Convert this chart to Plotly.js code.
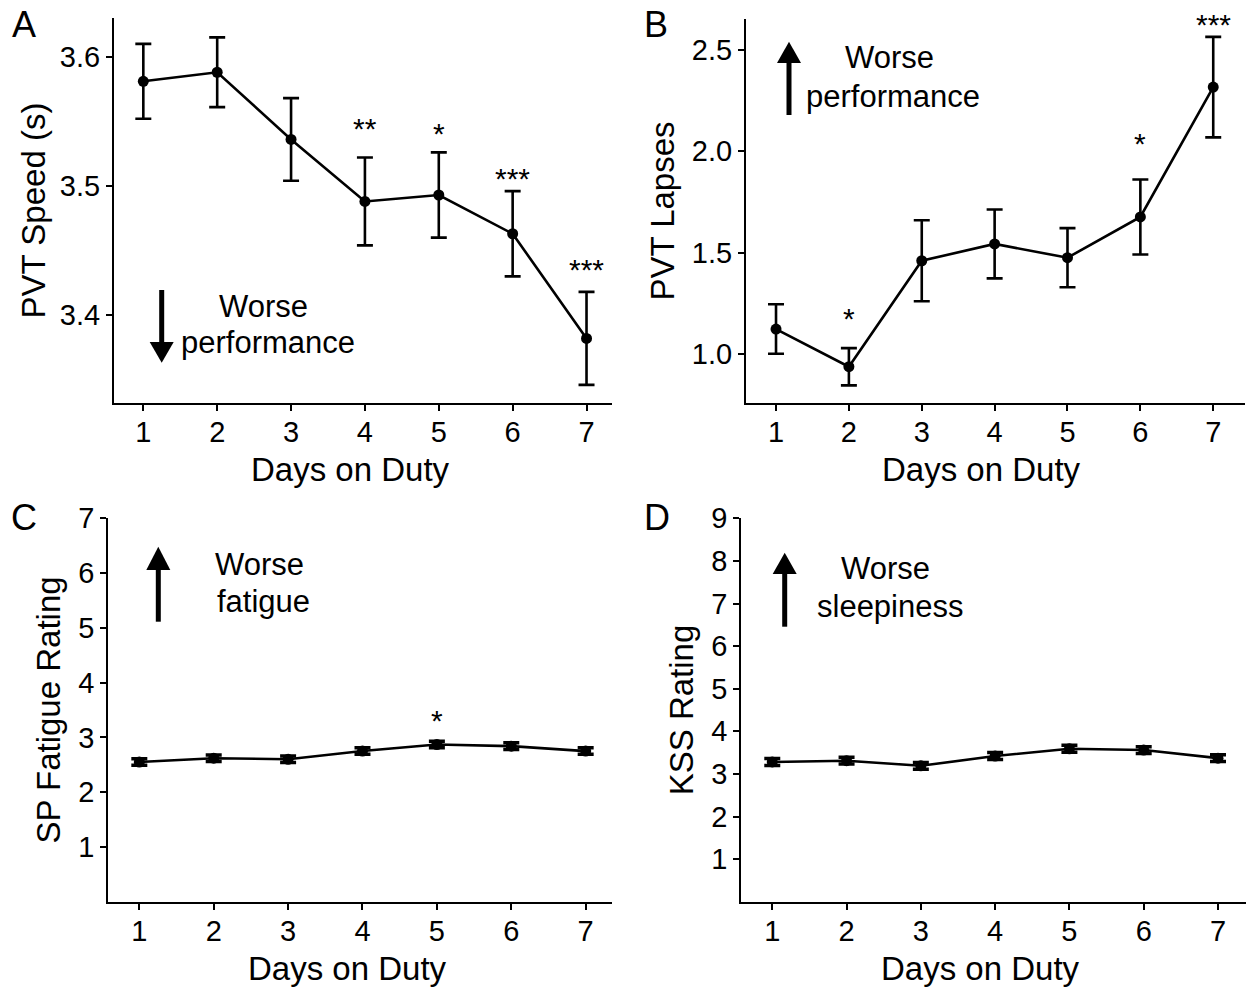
<!DOCTYPE html>
<html>
<head>
<meta charset="utf-8">
<script src="https://cdn.plot.ly/plotly-3.0.1.min.js"></script>
<style>
  html, body { margin: 0; padding: 0; background: #fff; }
  #chart { width: 1248px; height: 989px; }
</style>
</head>
<body>
<div id="chart"></div>
<script>
// Daily means and standard errors across seven consecutive days on duty
const days = [1, 2, 3, 4, 5, 6, 7];

const pvtSpeed    = [3.581, 3.588, 3.536, 3.488, 3.493, 3.463, 3.382];
const pvtSpeedErr = [0.029, 0.027, 0.032, 0.034, 0.033, 0.033, 0.036];

const pvtLapses    = [1.123, 0.937, 1.460, 1.543, 1.475, 1.676, 2.317];
const pvtLapsesErr = [0.122, 0.092, 0.200, 0.170, 0.146, 0.185, 0.248];

const fatigue    = [2.55, 2.62, 2.60, 2.75, 2.87, 2.84, 2.75];
const fatigueErr = [0.06, 0.06, 0.06, 0.06, 0.06, 0.06, 0.06];

const kss    = [3.28, 3.31, 3.19, 3.42, 3.59, 3.56, 3.37];
const kssErr = [0.08, 0.08, 0.08, 0.08, 0.08, 0.08, 0.08];

const dayTicks = ['1', '2', '3', '4', '5', '6', '7'];

// Page geometry helpers (pixels -> paper fractions)
const W = 1248, H = 989;
const px = x => x / W;
const py = y => 1 - y / H;

const FONT = 'Liberation Sans, Arial, Helvetica, sans-serif';
const BLACK = '#000000';
const TICK_SIZE = 29;

function series(y, err, xa, ya, big) {
  return {
    x: days, y: y, xaxis: xa, yaxis: ya,
    type: 'scatter', mode: 'lines+markers',
    line: { color: BLACK, width: 2.6 },
    marker: { color: BLACK, size: 11 },
    error_y: { type: 'data', array: err, visible: true, color: BLACK,
               thickness: big ? 3.5 : 2.6, width: 8 },
    cliponaxis: false, showlegend: false, hoverinfo: 'x+y'
  };
}

const data = [
  series(pvtSpeed, pvtSpeedErr, 'x', 'y', false),
  series(pvtLapses, pvtLapsesErr, 'x2', 'y2', false),
  series(fatigue, fatigueErr, 'x3', 'y3', true),
  series(kss, kssErr, 'x4', 'y4', true)
];

function xAxis(domain, range, anchor) {
  return {
    domain: domain, range: range, anchor: anchor,
    tickvals: days, ticktext: dayTicks,
    showline: true, linecolor: BLACK, linewidth: 2,
    ticks: 'outside', ticklen: 6, tickwidth: 2, tickcolor: BLACK,
    ticklabelstandoff: -4,
    showgrid: false, zeroline: false, fixedrange: true,
    tickfont: { family: FONT, size: TICK_SIZE, color: BLACK }
  };
}
function yAxis(domain, range, anchor, vals, text, title, standoff) {
  return {
    domain: domain, range: range, anchor: anchor,
    tickvals: vals, ticktext: text,
    showline: true, linecolor: BLACK, linewidth: 2,
    ticks: 'outside', ticklen: 6, tickwidth: 2, tickcolor: BLACK,
    showgrid: false, zeroline: false, fixedrange: true,
    tickfont: { family: FONT, size: TICK_SIZE, color: BLACK },
    title: { text: title, font: { family: FONT, size: 33, color: BLACK }, standoff: standoff }
  };
}

const topRow = [py(403), py(18)];
const botRow = [py(901.7), py(518.3)];

// Text annotations
const annotations = [];
function label(text, x, y, size) {
  annotations.push({ text: text, x: x, y: y, xref: 'paper', yref: 'paper',
    xanchor: 'center', yanchor: 'middle', showarrow: false,
    font: { family: FONT, size: size, color: BLACK } });
}
// panel letters
label('A', px(24), py(25), 36);
label('B', px(656), py(25), 36);
label('C', px(24), py(517.5), 36);
label('D', px(657), py(517), 36);
// x axis titles
label('Days on Duty', px(350), py(469.6), 33);
label('Days on Duty', px(981.5), py(469.6), 33);
label('Days on Duty', px(347.5), py(968.3), 33);
label('Days on Duty', px(980), py(968.3), 33);
// direction notes
label('Worse', px(263.3), py(306), 31);
label('performance', px(268), py(342.3), 31);
label('Worse', px(889), py(57.6), 31);
label('performance', px(893), py(96), 31);
label('Worse', px(259.7), py(564.3), 31);
label('fatigue', px(263.8), py(601), 31);
label('Worse', px(885.5), py(568.6), 31);
label('sleepiness', px(889.8), py(606), 31);

// significance markers (day, text, height on the panel's scale)
function star(text, day, y, xa, ya) {
  annotations.push({ text: text, x: day, y: y, xref: xa, yref: ya,
    xanchor: 'center', yanchor: 'middle', yshift: -7, showarrow: false,
    font: { family: FONT, size: 30, color: BLACK } });
}
star('**', 4, 3.550, 'x', 'y');
star('*', 5, 3.546, 'x', 'y');
star('***', 6, 3.511, 'x', 'y');
star('***', 7, 3.441, 'x', 'y');
star('*', 2, 1.209, 'x2', 'y2');
star('*', 6, 2.072, 'x2', 'y2');
star('***', 7, py(17.3), 'x2', 'paper');   // sits above the top of panel B's axis
star('*', 5, 3.44, 'x3', 'y3');

// arrows: shaft + triangular head
const shapes = [];
function arrow(x, tail, base, tip) {
  shapes.push({ type: 'line', xref: 'paper', yref: 'paper',
    x0: px(x), x1: px(x), y0: py(tail), y1: py(base),
    line: { color: BLACK, width: 5 } });
  shapes.push({ type: 'path', xref: 'paper', yref: 'paper',
    path: `M ${px(x - 12)},${py(base)} L ${px(x + 12)},${py(base)} L ${px(x)},${py(tip)} Z`,
    fillcolor: BLACK, line: { color: BLACK, width: 0 } });
}
arrow(161.7, 290, 342, 362.7);
arrow(789, 115, 63, 41.7);
arrow(158.3, 621.7, 570, 546.7);
arrow(784.7, 626.7, 574, 552.7);

const layout = {
  width: W, height: H,
  margin: { l: 0, r: 0, t: 0, b: 0 },
  paper_bgcolor: '#ffffff', plot_bgcolor: '#ffffff',
  font: { family: FONT, color: BLACK },
  showlegend: false,
  xaxis:  xAxis([px(114), px(612)], [0.603, 7.345], 'y'),
  yaxis:  yAxis(topRow, [3.332, 3.630], 'x', [3.4, 3.5, 3.6], ['3.4', '3.5', '3.6'], 'PVT Speed (s)', 4),
  xaxis2: xAxis([px(746), px(1245)], [0.588, 7.436], 'y2'),
  yaxis2: yAxis([py(403), py(19)], [0.758, 2.653], 'x2', [1.0, 1.5, 2.0, 2.5], ['1.0', '1.5', '2.0', '2.5'], 'PVT Lapses', 7),
  xaxis3: xAxis([px(108.3), px(612)], [0.583, 7.354], 'y3'),
  yaxis3: yAxis(botRow, [0, 7], 'x3', [1, 2, 3, 4, 5, 6, 7], ['1', '2', '3', '4', '5', '6', '7'], 'SP Fatigue Rating', 8),
  xaxis4: xAxis([px(741.3), px(1246)], [0.583, 7.377], 'y4'),
  yaxis4: yAxis(botRow, [0, 9], 'x4', [1, 2, 3, 4, 5, 6, 7, 8, 9], ['1', '2', '3', '4', '5', '6', '7', '8', '9'], 'KSS Rating', 8),
  annotations: annotations,
  shapes: shapes
};

Plotly.newPlot('chart', data, layout, { staticPlot: true, displayModeBar: false });
</script>
</body>
</html>
